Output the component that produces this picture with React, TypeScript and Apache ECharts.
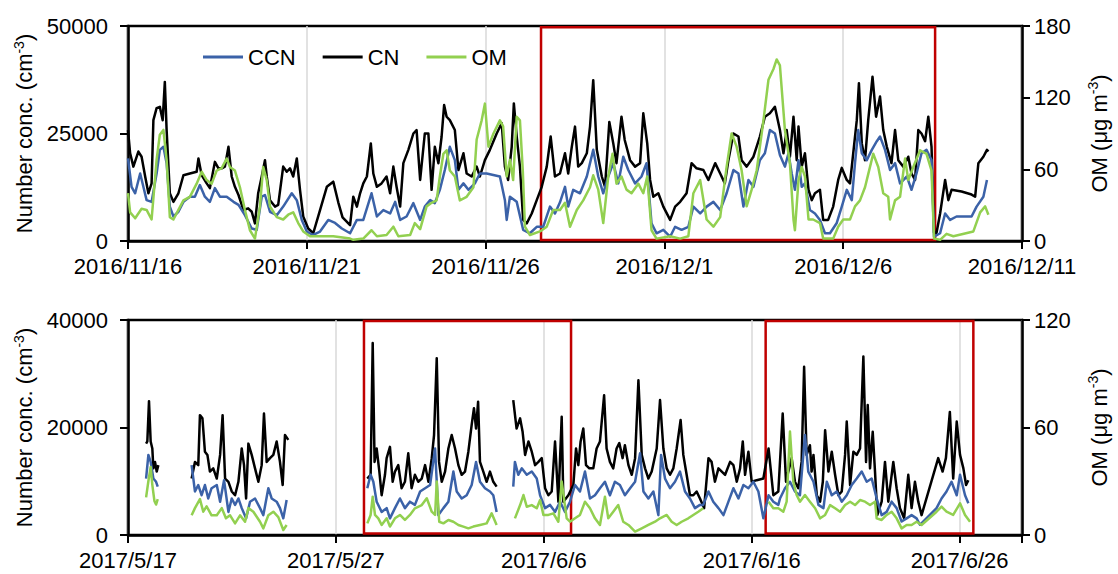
import React, { useEffect, useRef } from "react";
import * as echarts from "echarts";

// x values are days since the panel start date; '-' marks a gap in the record
const topStartDate = [2016, 11, 16];
const botStartDate = [2017, 5, 17];
const topDayTicks = [0, 5, 10, 15, 20, 25];
const botDayTicks = [0, 10, 20, 30, 40];
const topLeftTicks = [0, 25000, 50000];
const topRightTicks = [0, 60, 120, 180];
const botLeftTicks = [0, 20000, 40000];
const botRightTicks = [0, 60, 120];
const topBoxes = [[11.55, 22.57]];
const botBoxes = [[11.35, 21.31], [30.67, 40.66]];

const topCN = [
  [0, 25800], [0.06, 20400], [0.15, 17300], [0.29, 20800], [0.38, 19600], [0.48, 15000], [0.57, 11100], [0.66, 13400], [0.71, 28100], [0.8, 30900], [0.89, 31200], [0.97, 28100], [1.03, 37000], [1.08, 25800], [1.17, 11100], [1.27, 9100], [1.41, 11100], [1.55, 15300], [1.73, 15700], [1.92, 16100], [1.97, 19200], [2.06, 15300], [2.2, 13400], [2.29, 12300], [2.43, 18400], [2.53, 16900], [2.62, 16900], [2.71, 17300], [2.81, 21900], [2.9, 15000], [2.99, 12600], [3.09, 10700], [3.23, 7200], [3.36, 7600], [3.46, 6800], [3.55, 4100], [3.64, 11100], [3.74, 15000], [3.83, 18800], [3.88, 15000], [3.97, 9500], [4.11, 8000], [4.2, 8400], [4.34, 17300], [4.44, 16100], [4.53, 16900], [4.62, 15000], [4.72, 19200], [4.81, 11900], [4.9, 5700], [5.04, 2900], [5.18, 1800], [5.37, 7200], [5.56, 12600], [5.74, 13800], [5.88, 9000], [6.0, 5500], [6.21, 3700],
  [6.3, 10300], [6.4, 8000], [6.49, 11100], [6.58, 13400], [6.68, 15000], [6.79, 22700], [6.86, 15700], [6.96, 12600], [7.09, 13400], [7.23, 15000], [7.33, 11100], [7.42, 17300], [7.51, 12600], [7.61, 8000], [7.7, 18100], [7.84, 21200], [7.98, 25000], [8.07, 25800], [8.17, 14200], [8.3, 25000], [8.4, 25000], [8.49, 11900], [8.58, 21900], [8.68, 18100], [8.77, 24300], [8.84, 31600], [8.91, 28900], [9.0, 28100], [9.14, 25800], [9.24, 16500], [9.38, 20400], [9.47, 15700], [9.61, 15000], [9.75, 17300], [9.84, 15000], [9.98, 18800], [10.12, 21200], [10.31, 25000], [10.45, 27400], [10.54, 17300], [10.63, 14200], [10.73, 21900], [10.79, 32000], [10.87, 24300], [10.96, 17300], [11.05, 4900], [11.15, 4100], [11.29, 6400], [11.43, 9500], [11.57, 12600], [11.71, 17300], [11.82, 24300], [11.94, 15000],
  [12.08, 15700], [12.22, 20400], [12.31, 15700], [12.41, 21900], [12.5, 26600], [12.59, 17300], [12.69, 18100], [12.83, 20400], [12.92, 26600], [13.01, 37400], [13.11, 21200], [13.25, 15000], [13.34, 12600], [13.46, 27700], [13.57, 22700], [13.66, 18100], [13.8, 28900], [13.89, 23500], [14.04, 18800], [14.18, 17300], [14.32, 18100], [14.41, 29700], [14.52, 22700], [14.6, 14200], [14.69, 10300], [14.83, 11100], [14.97, 8000], [15.16, 4900], [15.3, 8000], [15.44, 9100], [15.62, 11100], [15.76, 18100], [15.9, 16900], [16.09, 16500], [16.23, 14200], [16.42, 18100], [16.56, 15700], [16.69, 13400], [16.79, 18800], [16.93, 25000], [17.07, 24300], [17.16, 18800], [17.3, 17300], [17.49, 19600], [17.67, 24300], [17.81, 28900], [17.95, 29700], [18.09, 31200], [18.23, 25800],
  [18.33, 20400], [18.42, 25800], [18.51, 19600], [18.61, 28900], [18.7, 18800], [18.75, 26600], [18.84, 17300], [18.93, 20400], [19.03, 11900], [19.12, 9500], [19.21, 11100], [19.35, 11900], [19.44, 4900], [19.58, 4900], [19.72, 8000], [19.86, 14200], [19.96, 17000], [20.1, 14200], [20.19, 13400], [20.28, 20400], [20.38, 28100], [20.44, 36700], [20.52, 22700], [20.61, 18800], [20.7, 28100], [20.82, 38200], [20.92, 28900], [21.03, 33600], [21.12, 25800], [21.22, 21900], [21.35, 18100], [21.45, 25800], [21.54, 18800], [21.68, 17300], [21.82, 19600], [21.91, 15700], [22.01, 14200], [22.1, 25800], [22.19, 25000], [22.29, 23200], [22.38, 28900], [22.47, 21900], [22.54, 1900], [22.61, 1900], [22.71, 6400], [22.85, 14200], [22.94, 9500], [23.03, 11900], [23.31, 11500], [23.59, 10800], [23.69, 10300], [23.78, 18100], [23.92, 19600], [24.02, 21200], [24.06, 20800],
];

const topCCN = [
  [0, 19200], [0.1, 12600], [0.2, 11100], [0.34, 15700], [0.43, 12600], [0.52, 9500], [0.66, 9100], [0.8, 15700], [0.89, 21200], [0.99, 21900], [1.08, 18100], [1.17, 8000], [1.27, 5700], [1.41, 6800], [1.55, 9100], [1.73, 10300], [1.87, 10300], [2.01, 13000], [2.15, 10300], [2.29, 9100], [2.43, 12300], [2.57, 10300], [2.76, 10300], [2.95, 9100], [3.09, 8400], [3.27, 6000], [3.46, 2900], [3.6, 2600], [3.74, 10300], [3.83, 10700], [3.97, 6800], [4.16, 6000], [4.34, 8000], [4.58, 11100], [4.72, 9500], [4.86, 4900], [5.0, 2200], [5.18, 1400], [5.37, 2200], [5.6, 4900], [5.79, 4200], [5.98, 2900], [6.21, 1800],
  [6.4, 4900], [6.58, 4900], [6.81, 11100], [6.96, 5700], [7.14, 7200], [7.33, 6400], [7.47, 9100], [7.61, 4900], [7.79, 5700], [7.98, 8800], [8.17, 4900], [8.3, 8000], [8.45, 9500], [8.58, 8800], [8.72, 11900], [8.86, 16500], [9.0, 21900], [9.14, 18800], [9.24, 11900], [9.38, 13400], [9.52, 11900], [9.7, 13400], [9.84, 15700], [10.03, 15700], [10.4, 15000], [10.54, 9500], [10.59, 4900], [10.68, 10300], [10.87, 9100], [11.05, 2600], [11.24, 1800], [11.43, 3300], [11.61, 3300], [11.8, 8000], [11.94, 6400],
  [12.08, 9000], [12.22, 12600], [12.31, 8000], [12.45, 11900], [12.64, 11100], [12.83, 15000], [13.01, 21200], [13.15, 15000], [13.29, 11100], [13.43, 15000], [13.57, 18100], [13.71, 13400], [13.85, 19600], [13.99, 16500], [14.18, 13400], [14.36, 15000], [14.5, 18100], [14.64, 4100], [14.78, 1800], [14.97, 2600], [15.16, 1000], [15.3, 3300], [15.48, 2600], [15.67, 3300], [15.81, 8000], [16.0, 6400], [16.18, 8000], [16.37, 9100], [16.56, 7200], [16.74, 11100], [16.93, 16500], [17.07, 15700], [17.21, 8000], [17.35, 14200], [17.49, 12600], [17.67, 18800], [17.81, 20400], [17.95, 25800], [18.09, 25000], [18.23, 20000],
  [18.37, 17300], [18.47, 20400], [18.56, 15700], [18.65, 11900], [18.75, 18800], [18.84, 12600], [18.93, 13400], [19.07, 7200], [19.21, 6400], [19.35, 4900], [19.49, 1800], [19.63, 1800], [19.82, 4200], [19.96, 8000], [20.1, 11900], [20.24, 9500], [20.33, 18100], [20.42, 25800], [20.52, 20400], [20.66, 18800], [20.8, 21200], [20.94, 23200], [21.03, 24300], [21.17, 21200], [21.31, 16500], [21.45, 18100], [21.59, 13400], [21.78, 15000], [21.91, 11900], [22.05, 15700], [22.19, 20400], [22.33, 21200], [22.47, 18800], [22.54, 1000], [22.71, 1800], [22.85, 6400], [22.99, 4900], [23.17, 5700], [23.59, 5700], [23.73, 8000], [23.92, 10300], [24.02, 14200],
];

const topOM = [
  [0, 40], [0.06, 24], [0.2, 19], [0.38, 27], [0.52, 26], [0.66, 18], [0.8, 68], [0.89, 89], [0.99, 93], [1.08, 68], [1.17, 20], [1.27, 18], [1.41, 26], [1.55, 34], [1.73, 37], [1.92, 48], [2.06, 58], [2.2, 51], [2.34, 48], [2.48, 59], [2.62, 61], [2.76, 69], [2.85, 62], [2.99, 59], [3.13, 45], [3.27, 26], [3.41, 9], [3.55, 2], [3.69, 29], [3.78, 62], [3.88, 51], [3.97, 29], [4.16, 20], [4.34, 18], [4.48, 22], [4.62, 24], [4.76, 15], [4.9, 8], [5.09, 4], [5.37, 4], [5.74, 4], [6.21, 2],
  [6.3, 1], [6.58, 2], [6.81, 9], [6.96, 4], [7.23, 5], [7.42, 12], [7.56, 4], [7.89, 5], [8.02, 15], [8.17, 10], [8.35, 29], [8.49, 32], [8.63, 34], [8.72, 54], [8.82, 73], [8.91, 76], [9.0, 59], [9.14, 54], [9.28, 34], [9.47, 37], [9.66, 45], [9.75, 85], [9.89, 101], [9.98, 115], [10.08, 79], [10.22, 90], [10.4, 101], [10.49, 96], [10.59, 54], [10.68, 68], [10.77, 51], [10.87, 104], [10.96, 101], [11.04, 59], [11.1, 12], [11.24, 5], [11.52, 8], [11.71, 12], [11.89, 26],
  [12.08, 26], [12.22, 32], [12.36, 12], [12.55, 26], [12.73, 34], [12.92, 45], [13.01, 55], [13.15, 43], [13.29, 15], [13.43, 54], [13.55, 73], [13.66, 48], [13.8, 54], [13.94, 43], [14.08, 40], [14.27, 48], [14.41, 40], [14.52, 54], [14.64, 9], [14.78, 2], [15.16, 4], [15.44, 2], [15.67, 4], [15.81, 40], [16.0, 51], [16.18, 18], [16.37, 12], [16.56, 20], [16.74, 62], [16.88, 90], [17.02, 79], [17.16, 59], [17.3, 29], [17.44, 43], [17.58, 59], [17.77, 101], [17.91, 135], [18.05, 144], [18.14, 152], [18.23, 147],
  [18.37, 93], [18.51, 65], [18.61, 18], [18.65, 9], [18.75, 51], [18.84, 62], [18.93, 54], [19.03, 18], [19.16, 18], [19.35, 15], [19.44, 2], [19.72, 2], [19.86, 12], [20.0, 18], [20.19, 18], [20.33, 29], [20.47, 34], [20.61, 45], [20.7, 56], [20.84, 73], [20.98, 62], [21.12, 40], [21.26, 37], [21.31, 18], [21.45, 34], [21.59, 37], [21.73, 69], [21.82, 51], [21.96, 62], [22.15, 76], [22.33, 73], [22.47, 59], [22.54, 2], [22.71, 1], [22.89, 6], [23.08, 4], [23.64, 8], [23.83, 24], [23.97, 29], [24.06, 22],
];

const botCN = [
  [0.87, 17000], [0.93, 17400], [1.01, 24900], [1.09, 17400], [1.17, 16100], [1.22, 12400], [1.3, 13600], [1.38, 11800], [1.46, 13000], [2.2, "-"],
  [3.06, 10500], [3.22, 13600], [3.38, 13000], [3.46, 22300], [3.58, 21700], [3.7, 15500], [3.82, 14900], [3.94, 11800], [4.1, 12400], [4.27, 10500], [4.43, 14900], [4.55, 22300], [4.67, 10500], [4.83, 9900], [4.99, 8100], [5.15, 7400], [5.31, 9900], [5.47, 16100], [5.58, 13000], [5.68, 6800], [5.79, 17000], [5.95, 14900], [6.11, 12400], [6.27, 9900], [6.43, 13000], [6.54, 22600], [6.67, 13600], [6.83, 14300], [6.99, 14900], [7.15, 17400], [7.31, 13600], [7.44, 9300], [7.55, 18600], [7.71, 17700], [9, "-"],
  [11.51, 10500], [11.67, 11200], [11.77, 35700], [11.86, 13600], [11.96, 16100], [12.09, 11800], [12.2, 7400], [12.36, 11200], [12.44, 14300], [12.6, 16400], [12.73, 9900], [12.84, 11800], [13.0, 13000], [13.16, 8700], [13.32, 9900], [13.48, 15200], [13.64, 8700], [13.8, 11200], [13.96, 9900], [14.13, 10500], [14.29, 13000], [14.45, 9900], [14.61, 14300], [14.72, 18600], [14.85, 32900], [14.96, 13600], [15.09, 9900], [15.25, 11800], [15.41, 16100], [15.57, 18600], [15.73, 16100], [15.89, 13000], [16.05, 11200], [16.21, 11800], [16.37, 15500], [16.53, 20500], [16.64, 23600], [16.74, 19800], [16.84, 24800], [16.93, 13600], [17.09, 11800], [17.25, 9900], [17.41, 11800], [17.57, 9900], [17.73, 9000], [18.1, "-"],
  [18.53, 25100], [18.69, 19800], [18.86, 21700], [18.98, 19200], [19.1, 14900], [19.26, 17400], [19.42, 15500], [19.58, 13000], [19.74, 13600], [19.9, 14300], [20.06, 8700], [20.22, 7400], [20.38, 8100], [20.54, 17400], [20.7, 6200], [20.86, 22000], [20.94, 6200], [21.18, 7400], [21.42, 9300], [21.55, 16100], [21.66, 13000], [21.77, 17400], [21.9, 19800], [22.03, 13000], [22.19, 12400], [22.38, 12400], [22.54, 16100], [22.7, 17400], [22.9, 26000], [23.02, 16100], [23.18, 13600], [23.34, 12400], [23.5, 16100], [23.63, 17100], [23.79, 14300], [23.9, 16700], [24.07, 13000], [24.23, 11200], [24.39, 14300], [24.55, 28800], [24.71, 14900], [24.87, 12400], [25.03, 10500], [25.19, 11800], [25.43, 16100], [25.59, 25100], [25.75, 16100], [25.91, 12400], [26.07, 11200], [26.23, 12400], [26.39, 16100], [26.58, 21400], [26.71, 14900], [26.87, 11200], [27.03, 7400], [27.19, 7400], [27.35, 8100], [27.51, 6800], [27.71, 5000], [27.92, 14300], [28.07, 13600], [28.23, 9900], [28.4, 12400], [28.56, 11800], [28.72, 11200], [28.96, 13600], [29.12, 13000], [29.28, 9900], [29.44, 12400], [29.57, 17400], [29.68, 11200], [29.84, 15500], [30.0, 9900], [30.24, 10200], [30.56, 10500], [30.81, 16100], [31.04, 7400], [31.28, 8100], [31.49, 22600], [31.65, 9900], [31.76, 11800], [31.92, 14300],
  [32.08, 9900], [32.24, 8700], [32.4, 13600], [32.52, 31300], [32.64, 14900], [32.8, 16700], [32.88, 11800], [32.97, 14900], [33.13, 7400], [33.29, 6200], [33.42, 9900], [33.53, 19500], [33.69, 11800], [33.85, 15500], [34.01, 11200], [34.17, 7400], [34.33, 8100], [34.49, 14900], [34.57, 21100], [34.73, 9300], [34.89, 15500], [35.05, 14900], [35.21, 16100], [35.37, 33200], [35.5, 13600], [35.58, 24200], [35.69, 12400], [35.82, 19200], [35.93, 11800], [36.04, 3700], [36.25, 6200], [36.41, 13600], [36.57, 6200], [36.81, 13600], [36.97, 8700], [37.13, 5000], [37.33, 3100], [37.53, 11200], [37.69, 5000], [37.85, 9900], [38.01, 6200], [38.17, 3700], [38.97, 14300], [39.18, 11800], [39.34, 14300], [39.53, 22900], [39.69, 10500], [39.86, 21100], [40.02, 14900], [40.18, 12400], [40.31, 9300], [40.42, 10200],
];

const botCCN = [
  [0.87, 10500], [0.98, 14900], [1.09, 13600], [1.22, 10500], [1.35, 9900], [1.43, 9000], [2.2, "-"],
  [3.06, 13000], [3.22, 8100], [3.38, 9300], [3.54, 7400], [3.7, 9300], [3.86, 6800], [4.02, 8700], [4.27, 9300], [4.43, 6200], [4.62, 10200], [4.83, 4300], [4.99, 6800], [5.15, 5600], [5.31, 6800], [5.47, 5000], [5.68, 3100], [5.87, 6200], [6.11, 6800], [6.35, 5000], [6.51, 3700], [6.75, 8700], [6.91, 6800], [7.15, 6200], [7.31, 5000], [7.47, 3100], [7.63, 6500], [9, "-"],
  [11.51, 8700], [11.67, 11200], [11.8, 9900], [11.96, 6200], [12.2, 4300], [12.44, 5000], [12.6, 3100], [12.84, 5000], [13.08, 6800], [13.32, 5000], [13.56, 6200], [13.8, 5600], [14.05, 8100], [14.29, 8700], [14.53, 9300], [14.77, 16100], [14.93, 3700], [15.17, 5000], [15.41, 6200], [15.65, 11800], [15.81, 8100], [16.05, 6800], [16.29, 7400], [16.53, 9300], [16.74, 13600], [16.93, 9900], [17.17, 8700], [17.41, 8100], [17.57, 7400], [17.73, 4300], [18.1, "-"],
  [18.53, 9000], [18.61, 13600], [18.77, 11200], [18.94, 12400], [19.18, 11200], [19.42, 11800], [19.66, 10500], [19.82, 7400], [20.06, 5000], [20.3, 5600], [20.54, 4300], [20.78, 6200], [21.02, 4300], [21.26, 6200], [21.5, 9300], [21.74, 8100], [21.98, 11800], [22.22, 6800], [22.46, 7400], [22.7, 8700], [22.94, 9900], [23.18, 7400], [23.42, 9900], [23.66, 9300], [23.9, 7400], [24.15, 8700], [24.39, 9900], [24.63, 15200], [24.79, 8100], [25.03, 6800], [25.27, 8100], [25.51, 3700], [25.64, 14900], [25.83, 10500], [26.07, 8700], [26.31, 9900], [26.55, 11800], [26.79, 8100], [27.03, 6800], [27.27, 5000], [27.51, 5600], [27.67, 5600], [27.92, 8100], [28.15, 6200], [28.4, 5000], [28.64, 3700], [28.88, 6200], [29.12, 8700], [29.36, 6800], [29.6, 9300], [29.84, 8700], [30.08, 9900], [30.32, 8100], [30.56, 3100], [30.81, 7400], [31.04, 6200], [31.28, 5600],
  [31.36, 6800], [31.6, 8700], [31.84, 9900], [32.08, 8100], [32.32, 7400], [32.56, 18600], [32.72, 11800], [32.97, 9900], [33.21, 5600], [33.45, 5000], [33.61, 9900], [33.85, 7400], [34.09, 8100], [34.33, 6200], [34.57, 7400], [34.81, 9300], [35.05, 10500], [35.29, 11800], [35.53, 9900], [35.77, 10500], [36.01, 6800], [36.25, 3700], [36.49, 4300], [36.73, 6200], [36.97, 5000], [37.21, 2500], [37.45, 3100], [37.69, 3700], [37.93, 3100], [38.09, 1900], [38.89, 5000], [39.13, 6800], [39.37, 8100], [39.61, 9900], [39.86, 7400], [40.02, 11200], [40.26, 7400], [40.42, 5900],
];

const botOM = [
  [0.87, 21], [0.98, 30], [1.09, 38], [1.17, 28], [1.27, 19], [1.35, 17], [1.43, 20], [2.2, "-"],
  [3.06, 11], [3.22, 15], [3.46, 20], [3.62, 13], [3.78, 16], [4.02, 11], [4.27, 11], [4.51, 15], [4.71, 9.3], [4.91, 11], [5.15, 6.5], [5.39, 11], [5.63, 7.4], [5.79, 15], [6.03, 13], [6.35, 7.4], [6.51, 3.7], [6.75, 11], [6.99, 13], [7.23, 10], [7.47, 2.8], [7.63, 5.6], [9, "-"],
  [11.51, 6.5], [11.67, 11.2], [11.77, 21.4], [11.88, 11.2], [12.04, 9.3], [12.2, 5.6], [12.44, 9.3], [12.6, 4.7], [12.84, 9.3], [13.08, 11.2], [13.32, 8.4], [13.56, 11.2], [13.8, 14.9], [14.13, 16.7], [14.37, 20.5], [14.61, 13], [14.77, 11.2], [14.85, 29.8], [14.97, 7.4], [15.17, 6.5], [15.41, 8.4], [15.65, 7.4], [15.89, 5.6], [16.13, 4.7], [16.37, 3.7], [16.61, 4.7], [16.93, 5.6], [17.25, 6.5], [17.49, 12.1], [17.73, 5.6], [18.1, "-"],
  [18.61, 9.3], [18.86, 16.7], [19.02, 22.3], [19.18, 15.8], [19.42, 16.7], [19.66, 14.9], [19.82, 19.5], [19.98, 11.2], [20.22, 11.2], [20.46, 12.1], [20.7, 7.4], [20.86, 29.8], [21.1, 9.3], [21.26, 7.4], [21.5, 9.3], [21.74, 11.2], [21.98, 18.6], [22.22, 14.9], [22.46, 9.3], [22.7, 5.6], [22.94, 21.4], [23.1, 9.3], [23.34, 13], [23.58, 16.7], [23.82, 7.4], [24.07, 5.6], [24.39, 1.9], [24.71, 3.7], [25.03, 5.6], [25.35, 7.4], [25.59, 9.3], [25.91, 11.2], [26.15, 7.4], [26.39, 5.6], [26.63, 7.4], [26.95, 9.3], [27.19, 11.2], [27.43, 13], [27.67, 14.9], [29, "-"],
  [30.81, 18.6], [31.04, 14.9], [31.28, 14.9], [31.52, 13], [31.68, 18.6], [31.84, 57.7], [32.0, 29.8], [32.16, 22.3], [32.32, 18.6], [32.56, 22.3], [32.8, 18.6], [33.05, 14.9], [33.29, 9.3], [33.53, 11.2], [33.77, 16.7], [34.01, 14.9], [34.25, 13], [34.49, 16.7], [34.73, 18.6], [34.97, 16.7], [35.21, 19.5], [35.45, 18.6], [35.69, 16.7], [35.93, 18.6], [36.01, 9.3], [36.25, 8.4], [36.49, 11.2], [36.73, 13], [36.97, 9.3], [37.21, 3.7], [37.45, 5.6], [37.69, 5.6], [37.93, 7.4], [38.17, 5.6], [38.89, 13], [39.13, 15.8], [39.37, 13], [39.69, 11.2], [40.02, 17.7], [40.26, 11.2], [40.5, 7.4],
];

const FONT = "'Liberation Sans', Arial, sans-serif";
const C_CCN = "#3B62A8";
const C_CN = "#000000";
const C_OM = "#92D050";
const C_BOX = "#C00000";

function dateLabel(start: number[], day: number) {
  const d = new Date(start[0], start[1] - 1, start[2] + Math.round(day));
  return `${d.getFullYear()}/${d.getMonth() + 1}/${d.getDate()}`;
}

function xAxisFor(gridIndex: number, start: number[], ticks: number[], max: number) {
  const step = ticks[1] - ticks[0];
  return {
    type: "value",
    gridIndex,
    min: ticks[0],
    max,
    interval: step,
    axisLine: { show: true, onZero: false, lineStyle: { color: "#000", width: 2.5 } },
    axisTick: { show: true, length: 8, lineStyle: { color: "#000", width: 2 } },
    axisLabel: {
      fontSize: 22,
      fontFamily: FONT,
      color: "#000",
      margin: 14,
      formatter: (v: number) => (ticks.indexOf(v) >= 0 ? dateLabel(start, v) : ""),
    },
    splitLine: { show: true, lineStyle: { color: "#D9D9D9", width: 1.5 } },
  };
}

const richName = {
  a: { fontSize: 22, fontFamily: FONT, color: "#000", lineHeight: 26 },
  s: { fontSize: 14, fontFamily: FONT, color: "#000", verticalAlign: "top", lineHeight: 26 },
};

function yAxisFor(gridIndex: number, ticks: number[], position: string, name: string, nameGap: number, margin: number) {
  return {
    type: "value",
    gridIndex,
    position,
    min: ticks[0],
    max: ticks[ticks.length - 1],
    interval: ticks[1] - ticks[0],
    name,
    nameLocation: "middle",
    nameRotate: 90,
    nameGap,
    nameTextStyle: { rich: richName },
    axisLine: { show: true, lineStyle: { color: "#000", width: 2.5 } },
    axisTick: { show: true, length: 8, lineStyle: { color: "#000", width: 2 } },
    axisLabel: { fontSize: 22, fontFamily: FONT, color: "#000", margin, formatter: (v: number) => String(v) },
    splitLine: { show: false },
  };
}

function boxes(list: number[][], yMin: number, yMax: number) {
  return {
    silent: true,
    itemStyle: { color: "rgba(0,0,0,0)", borderColor: C_BOX, borderWidth: 2.5 },
    data: list.map((b) => [
      { xAxis: b[0], yAxis: yMin },
      { xAxis: b[1], yAxis: yMax },
    ]),
  };
}

function line(name: string, color: string, data: any[], xi: number, yi: number, extra: any = {}) {
  return {
    name,
    type: "line",
    xAxisIndex: xi,
    yAxisIndex: yi,
    data,
    showSymbol: false,
    symbol: "none",
    connectNulls: false,
    lineStyle: { color, width: 2.5, join: "round" },
    itemStyle: { color },
    emphasis: { disabled: true },
    ...extra,
  };
}

export default function App() {
  const ref = useRef<HTMLDivElement>(null);
  useEffect(() => {
    if (!ref.current) return;
    const chart = echarts.init(ref.current, undefined, { renderer: "svg" });
    const nameN = "{a|Number conc. (cm}{s|-3}{a|)}";
    const nameOM = "{a|OM (μg m}{s|-3}{a|)}";
    chart.setOption({
      animation: false,
      backgroundColor: "#fff",
      legend: {
        data: ["CCN", "CN", "OM"],
        left: 198,
        top: 41,
        icon: "rect",
        itemWidth: 40,
        itemHeight: 3,
        itemGap: 27,
        textStyle: { fontSize: 22, fontFamily: FONT, color: "#000" },
      },
      grid: [
        { left: 128, top: 26, width: 894, height: 215, show: true, borderColor: "#000", borderWidth: 2.5, backgroundColor: "transparent" },
        { left: 128, top: 320, width: 894, height: 215, show: true, borderColor: "#000", borderWidth: 2.5, backgroundColor: "transparent" },
      ],
      xAxis: [
        xAxisFor(0, topStartDate, topDayTicks, 25),
        xAxisFor(1, botStartDate, botDayTicks, 43),
      ],
      yAxis: [
        yAxisFor(0, topLeftTicks, "left", nameN, 90, 20),
        yAxisFor(0, topRightTicks, "right", nameOM, 64, 12),
        yAxisFor(1, botLeftTicks, "left", nameN, 90, 20),
        yAxisFor(1, botRightTicks, "right", nameOM, 64, 12),
      ],
      series: [
        line("CN", C_CN, topCN, 0, 0, { markArea: boxes(topBoxes, 250, 49700) }),
        line("CCN", C_CCN, topCCN, 0, 0),
        line("OM", C_OM, topOM, 0, 1),
        line("CN", C_CN, botCN, 1, 2, { markArea: boxes(botBoxes, 300, 39800) }),
        line("CCN", C_CCN, botCCN, 1, 2),
        line("OM", C_OM, botOM, 1, 3),
      ],
    });
    return () => chart.dispose();
  }, []);
  return <div ref={ref} style={{ position: "fixed", left: 0, top: 0, width: 1118, height: 574 }} />;
}
